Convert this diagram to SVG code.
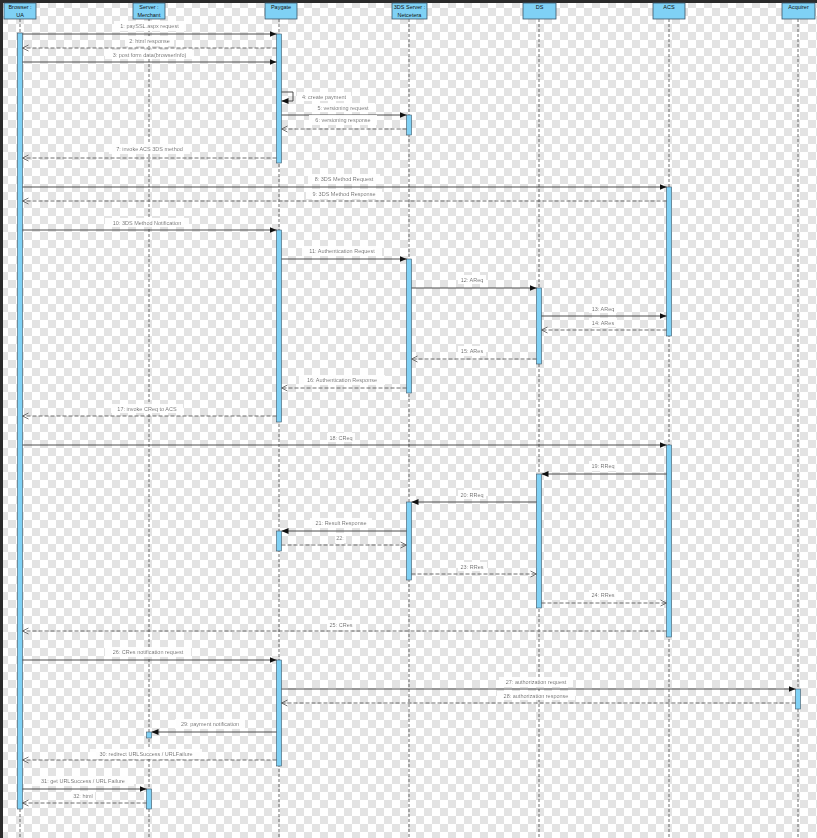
<svg xmlns="http://www.w3.org/2000/svg" width="817" height="838" viewBox="0 0 817 838">
<style>
.box{fill:#7fd1f5;stroke:#3d5566;stroke-width:0.8}
.life{stroke:#4a4a4a;stroke-width:0.8;stroke-dasharray:3 2;fill:none}
.act{fill:#7fd1f5;stroke:#3d5566;stroke-width:0.6}
.msg{stroke:#3a3a3a;stroke-width:0.9;fill:none;marker-end:url(#fa)}
.ret{stroke:#4a4a4a;stroke-width:0.8;stroke-dasharray:4 2;fill:none;marker-end:url(#oa)}
.hd{font-family:"Liberation Sans",Arial,sans-serif;font-size:5.5px;fill:#111;text-anchor:middle}
.lbl{font-family:"Liberation Sans",Arial,sans-serif;font-size:5.5px;fill:#111;text-anchor:middle;filter:url(#bg)}
.lbl.l{text-anchor:start}
</style>
<defs>
<pattern id="chk" width="16" height="16" patternUnits="userSpaceOnUse">
<rect width="16" height="16" fill="#ffffff"/>
<rect width="8" height="8" fill="#e3e3e3"/>
<rect x="8" y="8" width="8" height="8" fill="#e3e3e3"/>
</pattern>
<filter id="bg" x="-0.1" y="-0.2" width="1.2" height="1.4">
<feFlood flood-color="#ffffff" flood-opacity="0.92"/>
<feComposite in="SourceGraphic"/>
</filter>
<marker id="fa" markerWidth="7" markerHeight="6" refX="7" refY="3" orient="auto" markerUnits="userSpaceOnUse">
<path d="M0,0 L7,3 L0,6 z" fill="#111"/>
</marker>
<marker id="oa" markerWidth="8" markerHeight="8" refX="6.5" refY="4" orient="auto" markerUnits="userSpaceOnUse">
<path d="M0.5,1 L6.5,4 L0.5,7" fill="none" stroke="#555" stroke-width="0.8"/>
</marker>
</defs>
<rect width="817" height="838" fill="url(#chk)"/>
<rect x="0" y="0" width="817" height="3" fill="#2b2b2b"/>
<rect x="0" y="0" width="3" height="838" fill="#2b2b2b"/>

<g id="browser">
<line class="life" x1="20" y1="19" x2="20" y2="838"/>
<rect class="box" x="4" y="3" width="32" height="16"/>
<text class="hd" x="20" y="9">Browser :</text>
<text class="hd" x="20" y="16.5">UA</text>
<rect class="act" x="17.5" y="33" width="5" height="776"/>
</g>
<g id="merchant">
<line class="life" x1="149" y1="19" x2="149" y2="838"/>
<rect class="box" x="133" y="3" width="32" height="16"/>
<text class="hd" x="149" y="9">Server :</text>
<text class="hd" x="149" y="16.5">Merchant</text>
<rect class="act" x="146.5" y="732" width="5" height="6"/>
<rect class="act" x="146.5" y="789" width="5" height="20"/>
</g>
<g id="paygate">
<line class="life" x1="279" y1="19" x2="279" y2="838"/>
<rect class="box" x="265" y="3" width="32" height="16"/>
<text class="hd" x="281" y="9">Paygate</text>
<rect class="act" x="276.5" y="34" width="5" height="129"/>
<rect class="act" x="276.5" y="230" width="5" height="192"/>
<rect class="act" x="276.5" y="531" width="5" height="20"/>
<rect class="act" x="276.5" y="660" width="5" height="106"/>
</g>
<g id="threeds">
<line class="life" x1="409" y1="19" x2="409" y2="838"/>
<rect class="box" x="392" y="3" width="35" height="16"/>
<text class="hd" x="409.5" y="9">3DS Server :</text>
<text class="hd" x="409.5" y="16.5">Netcetera</text>
<rect class="act" x="406.5" y="115" width="5" height="20"/>
<rect class="act" x="406.5" y="259" width="5" height="134"/>
<rect class="act" x="406.5" y="502" width="5" height="78"/>
</g>
<g id="ds">
<line class="life" x1="539" y1="19" x2="539" y2="838"/>
<rect class="box" x="523" y="3" width="33" height="16"/>
<text class="hd" x="539.5" y="9">DS</text>
<rect class="act" x="536.5" y="288" width="5" height="76"/>
<rect class="act" x="536.5" y="474" width="5" height="134"/>
</g>
<g id="acs">
<line class="life" x1="669" y1="19" x2="669" y2="838"/>
<rect class="box" x="653" y="3" width="32" height="16"/>
<text class="hd" x="669" y="9">ACS</text>
<rect class="act" x="666.5" y="187" width="5" height="149"/>
<rect class="act" x="666.5" y="445" width="5" height="192"/>
</g>
<g id="acquirer">
<line class="life" x1="798" y1="19" x2="798" y2="838"/>
<rect class="box" x="782" y="3" width="33" height="16"/>
<text class="hd" x="798.5" y="9">Acquirer</text>
<rect class="act" x="795.5" y="689" width="5" height="20"/>
</g>

<g id="connectors">
<line class="msg" x1="22.5" y1="34" x2="276.5" y2="34"/>
<line class="ret" x1="276.5" y1="48" x2="22.5" y2="48"/>
<line class="msg" x1="22.5" y1="62" x2="276.5" y2="62"/>
<path class="msg" d="M281.5,92 H293 V101 H281.5"/>
<line class="msg" x1="281.5" y1="115" x2="406.5" y2="115"/>
<line class="ret" x1="406.5" y1="129" x2="281.5" y2="129"/>
<line class="ret" x1="276.5" y1="158" x2="22.5" y2="158"/>
<line class="msg" x1="22.5" y1="187" x2="666.5" y2="187"/>
<line class="ret" x1="666.5" y1="201" x2="22.5" y2="201"/>
<line class="msg" x1="22.5" y1="230" x2="276.5" y2="230"/>
<line class="msg" x1="281.5" y1="259" x2="406.5" y2="259"/>
<line class="msg" x1="411.5" y1="288" x2="536.5" y2="288"/>
<line class="msg" x1="541.5" y1="316" x2="666.5" y2="316"/>
<line class="ret" x1="666.5" y1="330" x2="541.5" y2="330"/>
<line class="ret" x1="536.5" y1="359" x2="411.5" y2="359"/>
<line class="ret" x1="406.5" y1="388" x2="281.5" y2="388"/>
<line class="ret" x1="276.5" y1="416" x2="22.5" y2="416"/>
<line class="msg" x1="22.5" y1="445" x2="666.5" y2="445"/>
<line class="msg" x1="666.5" y1="474" x2="541.5" y2="474"/>
<line class="msg" x1="536.5" y1="502" x2="411.5" y2="502"/>
<line class="msg" x1="406.5" y1="531" x2="281.5" y2="531"/>
<line class="ret" x1="281.5" y1="545" x2="406.5" y2="545"/>
<line class="ret" x1="411.5" y1="574" x2="536.5" y2="574"/>
<line class="ret" x1="541.5" y1="603" x2="666.5" y2="603"/>
<line class="ret" x1="666.5" y1="631" x2="22.5" y2="631"/>
<line class="msg" x1="22.5" y1="660" x2="276.5" y2="660"/>
<line class="msg" x1="281.5" y1="689" x2="795.5" y2="689"/>
<line class="ret" x1="795.5" y1="703" x2="281.5" y2="703"/>
<line class="msg" x1="276.5" y1="732" x2="151.5" y2="732"/>
<line class="ret" x1="276.5" y1="760" x2="22.5" y2="760"/>
<line class="msg" x1="22.5" y1="789" x2="146.5" y2="789"/>
<line class="ret" x1="146.5" y1="803" x2="22.5" y2="803"/>

<text class="lbl" x="149.5" y="28">1: paySSL.aspx request</text>
<text class="lbl" x="149.5" y="43">2: html response</text>
<text class="lbl" x="149.5" y="56.5">3: post form data(browserInfo)</text>
<text class="lbl l" x="302" y="98.5">4: create payment</text>
<text class="lbl" x="343" y="109.5">5: versioning request</text>
<text class="lbl" x="343" y="122">6: versioning response</text>
<text class="lbl" x="149.5" y="151">7: invoke ACS 3DS method</text>
<text class="lbl" x="344" y="181">8: 3DS Method Request</text>
<text class="lbl" x="344" y="196">9: 3DS Method Response</text>
<text class="lbl" x="147" y="224.5">10: 3DS Method Notification</text>
<text class="lbl" x="342" y="253">11: Authentication Request</text>
<text class="lbl" x="472" y="281.5">12: AReq</text>
<text class="lbl" x="603" y="310.5">13: AReq</text>
<text class="lbl" x="603" y="324.5">14: ARes</text>
<text class="lbl" x="472" y="353">15: ARes</text>
<text class="lbl" x="342" y="382">16: Authentication Response</text>
<text class="lbl" x="147" y="410.5">17: invoke CReq to ACS</text>
<text class="lbl" x="341" y="439.5">18: CReq</text>
<text class="lbl" x="603" y="468">19: RReq</text>
<text class="lbl" x="472" y="496.5">20: RReq</text>
<text class="lbl" x="341" y="525">21: Result Response</text>
<text class="lbl" x="340" y="540">22:</text>
<text class="lbl" x="472" y="568.5">23: RRes</text>
<text class="lbl" x="603" y="597">24: RRes</text>
<text class="lbl" x="341" y="627">25: CRes</text>
<text class="lbl" x="148" y="654">26: CRes notification request</text>
<text class="lbl" x="536" y="684">27: authorization request</text>
<text class="lbl" x="536" y="697.5">28: authorization response</text>
<text class="lbl" x="210" y="726">29: payment notification</text>
<text class="lbl" x="146" y="756">30: redirect URLSuccess / URLFailure</text>
<text class="lbl" x="83" y="783">31: get URLSuccess / URL Failure</text>
<text class="lbl" x="83" y="797.5">32: html</text>
</g>
</svg>
